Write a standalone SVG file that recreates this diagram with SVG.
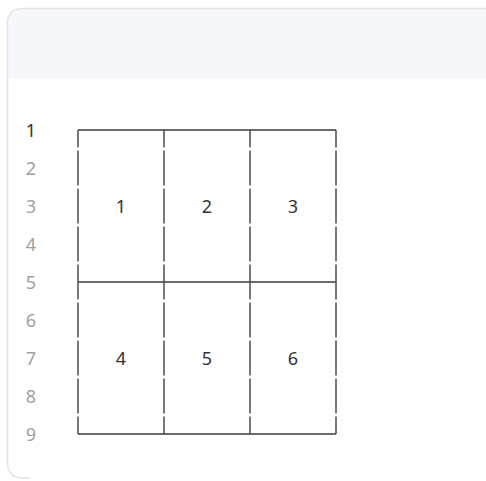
<svg xmlns="http://www.w3.org/2000/svg" width="486" height="481" viewBox="0 0 486 481">
  <style>
    .ln { font-family: "Noto Sans", "Open Sans", sans-serif; font-size: 18px; fill: #a0a0a0; text-anchor: middle; }
    .ln.cur { fill: #333333; }
    .cell { font-family: "Noto Sans", "Open Sans", sans-serif; font-size: 18px; fill: #333333; text-anchor: middle; }
    .h { stroke: #3a3a3a; stroke-width: 1.5; fill: none; }
    .v { stroke: #5a4a44; stroke-width: 1.5; fill: none; stroke-dasharray: 35 3; stroke-dashoffset: 17.5; }
  </style>
  <rect x="0" y="0" width="486" height="481" fill="#ffffff"/>
  <g id="panel">
    <path d="M 8.3 79 L 8.3 24 Q 8.3 9.3 23 9.3 L 490 9.3 L 490 79 Z" fill="#f6f7fa"/>
    <path d="M 490 8.5 L 23 8.5 Q 7.5 8.5 7.5 24 L 7.5 462 Q 7.5 478 23 478 L 30 478" fill="none" stroke="#e2e4e9" stroke-width="1.5"/>
  </g>
  <g id="line-numbers">
    <text class="ln cur" x="31" y="137">1</text>
    <text class="ln" x="31" y="175">2</text>
    <text class="ln" x="31" y="213">3</text>
    <text class="ln" x="31" y="251">4</text>
    <text class="ln" x="31" y="289">5</text>
    <text class="ln" x="31" y="327">6</text>
    <text class="ln" x="31" y="365">7</text>
    <text class="ln" x="31" y="403">8</text>
    <text class="ln" x="31" y="441">9</text>
  </g>
  <g id="connectors">
    <line class="h" x1="78" y1="130" x2="336" y2="130"/>
    <line class="h" x1="78" y1="282" x2="336" y2="282"/>
    <line class="h" x1="78" y1="434" x2="336" y2="434"/>
    <line class="v" x1="78" y1="130" x2="78" y2="434"/>
    <line class="v" x1="164" y1="130" x2="164" y2="434"/>
    <line class="v" x1="250" y1="130" x2="250" y2="434"/>
    <line class="v" x1="336" y1="130" x2="336" y2="434"/>
  </g>
  <g id="cell-1"><text class="cell" x="121" y="213">1</text></g>
  <g id="cell-2"><text class="cell" x="207" y="213">2</text></g>
  <g id="cell-3"><text class="cell" x="293" y="213">3</text></g>
  <g id="cell-4"><text class="cell" x="121" y="365">4</text></g>
  <g id="cell-5"><text class="cell" x="207" y="365">5</text></g>
  <g id="cell-6"><text class="cell" x="293" y="365">6</text></g>
</svg>
